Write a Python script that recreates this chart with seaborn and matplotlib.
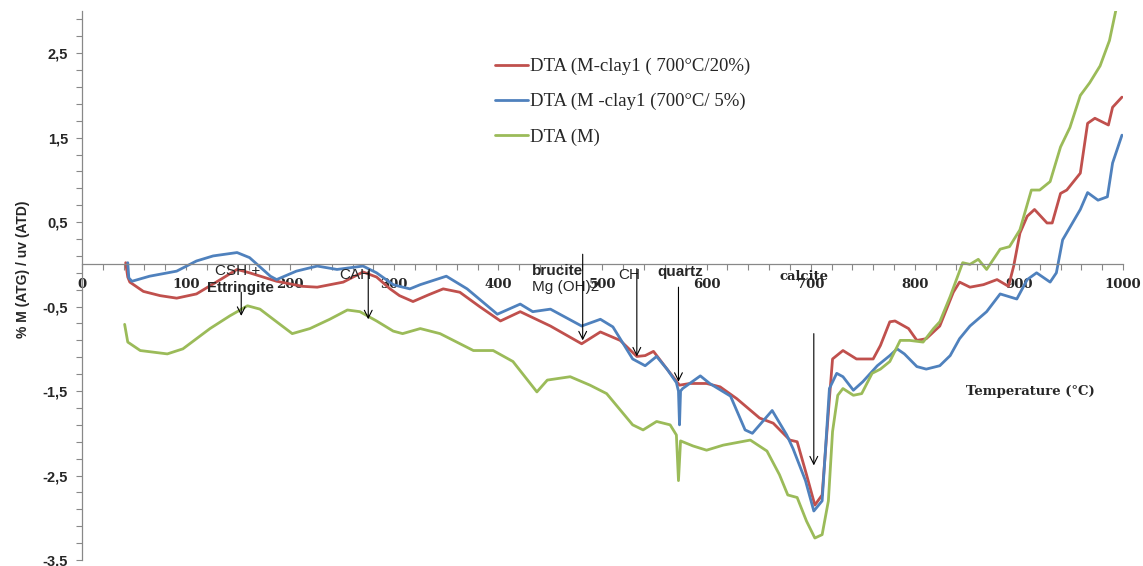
import numpy as np
import pandas as pd
import matplotlib
matplotlib.use("Agg")
import matplotlib.pyplot as plt
import seaborn as sns
from matplotlib.ticker import MultipleLocator, FixedLocator

# --- donnees ---
t_red = [42, 44, 46, 59, 75, 91, 110, 133, 149, 161, 187, 212, 226, 251, 270, 283, 296, 305, 318,
         333, 347, 363, 382, 402, 421, 450, 480, 498, 517, 533, 541, 549, 562, 574, 584, 600, 613,
         629, 651, 664, 680, 687, 696, 704, 711, 718, 721, 731, 744, 760, 767, 776, 781, 794, 802,
         811, 824, 837, 843, 853, 866, 879, 890, 895, 901, 908, 915, 927, 932, 940, 946, 959, 966,
         973, 986, 990, 999]
y_red = [0.02, -0.15, -0.21, -0.32, -0.37, -0.40, -0.35, -0.18, -0.06, -0.10, -0.20, -0.26, -0.27,
         -0.21, -0.09, -0.15, -0.29, -0.37, -0.44, -0.36, -0.29, -0.33, -0.50, -0.67, -0.56, -0.73,
         -0.94, -0.80, -0.90, -1.09, -1.08, -1.03, -1.24, -1.43, -1.41, -1.41, -1.45, -1.59, -1.82,
         -1.88, -2.08, -2.10, -2.49, -2.85, -2.73, -1.59, -1.12, -1.02, -1.12, -1.12, -0.96, -0.68,
         -0.67, -0.76, -0.90, -0.88, -0.73, -0.33, -0.21, -0.27, -0.24, -0.18, -0.26, -0.02, 0.37,
         0.57, 0.65, 0.49, 0.49, 0.84, 0.88, 1.08, 1.67, 1.73, 1.65, 1.86, 1.98]

t_blue = [44, 45, 48, 65, 91, 110, 126, 149, 161, 181, 187, 206, 226, 245, 270, 283, 299, 305, 315,
          325, 350, 370, 399, 421, 433, 450, 480, 498, 510, 529, 541, 552, 562, 571, 573, 574, 575,
          577, 594, 603, 623, 637, 644, 663, 677, 683, 695, 703, 711, 718, 725, 731, 741, 750, 764,
          776, 783, 790, 802, 811, 824, 834, 843, 853, 869, 882, 898, 908, 917, 930, 936, 942, 959,
          966, 976, 985, 990, 999]
y_blue = [0.02, -0.16, -0.20, -0.14, -0.08, 0.04, 0.10, 0.14, 0.08, -0.14, -0.18, -0.08, -0.02,
          -0.06, -0.02, -0.10, -0.24, -0.26, -0.29, -0.24, -0.14, -0.29, -0.59, -0.47, -0.56, -0.53,
          -0.73, -0.65, -0.74, -1.12, -1.20, -1.09, -1.24, -1.40, -1.50, -1.90, -1.50, -1.47, -1.32,
          -1.41, -1.56, -1.96, -2.00, -1.73, -2.02, -2.18, -2.56, -2.92, -2.80, -1.47, -1.29, -1.33,
          -1.49, -1.39, -1.20, -1.08, -1.00, -1.06, -1.21, -1.24, -1.20, -1.08, -0.88, -0.73, -0.56,
          -0.35, -0.41, -0.18, -0.10, -0.21, -0.10, 0.29, 0.65, 0.85, 0.76, 0.80, 1.20, 1.53]

t_green = [41, 44, 56, 82, 97, 123, 142, 159, 171, 187, 202, 219, 238, 255, 267, 283, 299, 308, 325,
           344, 376, 395, 414, 437, 447, 469, 488, 504, 529, 539, 552, 565, 571, 573, 575, 587, 600,
           616, 642, 658, 670, 678, 687, 696, 704, 711, 717, 721, 726, 731, 741, 749, 759, 767, 776,
           786, 795, 808, 818, 824, 834, 846, 853, 861, 869, 882, 891, 901, 912, 920, 930, 940, 949,
           959, 968, 978, 987, 993, 1000]
y_green = [-0.71, -0.92, -1.02, -1.06, -1.00, -0.76, -0.61, -0.49, -0.53, -0.68, -0.82, -0.76, -0.65,
           -0.54, -0.56, -0.67, -0.79, -0.82, -0.76, -0.82, -1.02, -1.02, -1.15, -1.51, -1.37, -1.33,
           -1.43, -1.53, -1.90, -1.96, -1.86, -1.90, -2.02, -2.56, -2.09, -2.15, -2.20, -2.14, -2.08,
           -2.21, -2.49, -2.73, -2.76, -3.04, -3.24, -3.20, -2.80, -1.98, -1.55, -1.47, -1.55, -1.53,
           -1.29, -1.24, -1.15, -0.90, -0.90, -0.92, -0.76, -0.68, -0.38, 0.02, 0.00, 0.06, -0.06,
           0.18, 0.21, 0.41, 0.88, 0.88, 0.98, 1.39, 1.62, 2.00, 2.15, 2.35, 2.65, 3.00, 3.30]

noms = ["DTA (M-clay1 ( 700°C/20%)", "DTA (M -clay1 (700°C/ 5%)", "DTA (M)"]
couleurs = ["#C0504D", "#4F81BD", "#9BBB59"]

xticks = [0, 100, 200, 300, 400, 500, 600, 700, 800, 900, 1000]
yticks = [-3.5, -2.5, -1.5, -0.5, 0.5, 1.5, 2.5]
ytick_labels = ["-3,5", "-2,5", "-1,5", "-0,5", "0,5", "1,5", "2,5"]

# pics annotes: (texte, x texte, y texte, x fleche, y debut, y fin, gras)
pics = [
    ("CSH +", 150, -0.08, None, None, None, "normal"),
    ("Ettringite", 152, -0.28, 153, -0.33, -0.61, "semibold"),
    ("CAH", 263, -0.13, 275, -0.08, -0.65, "normal"),
    ("brucite", 432, -0.08, None, None, None, "bold"),
    ("Mg (OH)2", 432, -0.27, 481, 0.12, -0.90, "normal"),
    ("CH", 526, -0.12, 533, -0.05, -1.09, "normal"),
    ("quartz", 575, -0.09, 573, -0.27, -1.39, "bold"),
]

df = pd.concat([
    pd.DataFrame({"T": t_red, "val": y_red, "serie": noms[0]}),
    pd.DataFrame({"T": t_blue, "val": y_blue, "serie": noms[1]}),
    pd.DataFrame({"T": t_green, "val": y_green, "serie": noms[2]}),
])

sns.set_theme(style="white")
plt.rcParams["font.family"] = ["DejaVu Sans"]

fig = plt.figure(figsize=(11.43, 5.66), dpi=100)
ax = fig.add_axes([0.0717, 0.0106, 0.9108, 0.970])

sns.lineplot(data=df, x="T", y="val", hue="serie", palette=couleurs, sort=False,
             estimator=None, lw=2.0, ax=ax)

ax.set_xlim(0, 1000)
ax.set_ylim(-3.5, 3.0)

# axes type Excel
for s in ["top", "right"]:
    ax.spines[s].set_visible(False)
ax.spines["bottom"].set_position(("data", 0))
for s in ["left", "bottom"]:
    ax.spines[s].set_color("#888888")
    ax.spines[s].set_linewidth(0.9)

ax.set_xticks(xticks)
ax.xaxis.set_minor_locator(MultipleLocator(20))
ax.set_xticklabels([str(v) for v in xticks], fontfamily="DejaVu Serif",
                   fontweight="bold", fontsize=9.5)
ax.set_yticks(yticks)
ax.set_yticklabels(ytick_labels, fontfamily="Liberation Sans", fontweight="bold", fontsize=10.5)
ax.yaxis.set_minor_locator(FixedLocator(np.arange(-3.5, 3.01, 0.2)))
ax.tick_params(axis="both", which="both", direction="out", length=4, width=0.8,
               color="#888888", bottom=True, left=True)
ax.tick_params(axis="x", pad=6)
ax.tick_params(axis="y", pad=6)

ax.set_xlabel("")
ax.set_ylabel("% M (ATG) / uv (ATD)", fontfamily="Liberation Sans", fontweight="bold",
              fontsize=10, labelpad=18)
ax.yaxis.set_label_coords(-0.050, 0.53)

ax.text(911, -1.5, "Temperature (°C)", fontfamily="DejaVu Serif", fontweight="bold",
        fontsize=9.5, ha="center", va="center")

for txt, xt, yt, xa, y0, y1, poids in pics:
    ax.text(xt, yt, txt, fontfamily="Liberation Sans", fontsize=11, fontweight=poids,
            ha="left" if xt == 432 else "center", va="center")
    if xa is not None:
        ax.annotate("", xy=(xa, y1), xytext=(xa, y0),
                    arrowprops=dict(arrowstyle="->", color="black", lw=0.8,
                                    shrinkA=0, shrinkB=0, mutation_scale=14))

ax.text(694, -0.14, "calcite", fontfamily="DejaVu Serif", fontsize=9.5, fontweight="bold",
        ha="center", va="center")
ax.annotate("", xy=(703, -2.38), xytext=(703, -0.82),
            arrowprops=dict(arrowstyle="->", color="black", lw=0.8,
                            shrinkA=0, shrinkB=0, mutation_scale=14))

handles, labels = ax.get_legend_handles_labels()
ax.legend(handles, labels, loc="upper left", bbox_to_anchor=(495 / 1143, 1 - 58 / 566),
          bbox_transform=fig.transFigure, frameon=False, borderpad=0, borderaxespad=0,
          handlelength=1.75, handletextpad=0.1, labelspacing=0.95,
          prop={"family": "Liberation Serif", "size": 13.5})

fig.savefig("out.png", dpi=100)
